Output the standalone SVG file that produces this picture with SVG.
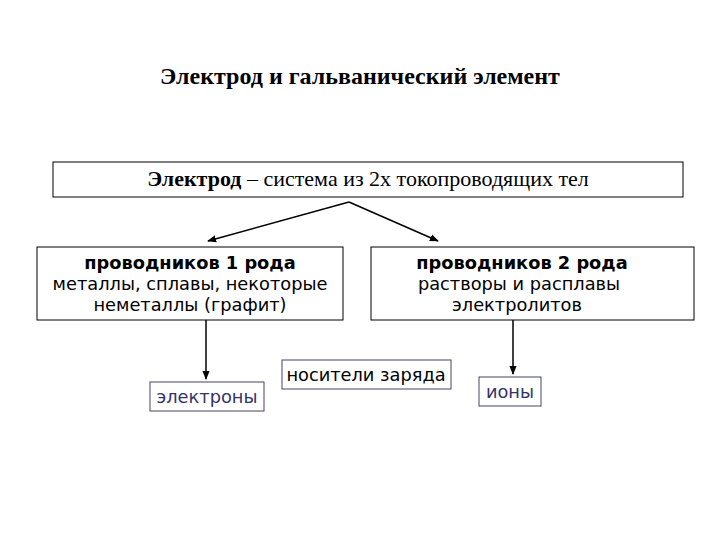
<svg xmlns="http://www.w3.org/2000/svg" width="720" height="540" viewBox="0 0 720 540">
<style>
.box{fill:#fff;stroke:#000;stroke-width:1}
.sbox{fill:#fff;stroke:#444466;stroke-width:1}
.ser{font-family:"Liberation Serif","Times New Roman",serif;fill:#000;text-anchor:middle}
.san{font-family:"DejaVu Sans",Verdana,sans-serif;font-size:17.8px;fill:#000;text-anchor:middle}
.blue{fill:#333366}
.con{stroke:#000;stroke-width:1.5;fill:none}
</style>
<defs>
<marker id="ah" viewBox="0 0 10 10" refX="9" refY="5" markerWidth="9" markerHeight="9" orient="auto" markerUnits="userSpaceOnUse">
<path d="M0,1 L10,5 L0,9 z" fill="#000"/>
</marker>
</defs>
<rect width="720" height="540" fill="#fff"/>
<text id="title" class="ser" x="360" y="84" font-size="24px" font-weight="bold">Электрод и гальванический элемент</text>
<g id="electrode">
<rect class="box" x="53" y="162" width="630" height="35"/>
<text class="ser" x="368" y="186" font-size="22px"><tspan font-weight="bold">Электрод</tspan> – система из 2х токопроводящих тел</text>
</g>
<g id="cond1">
<rect class="box" x="37" y="247" width="306" height="73"/>
<text class="san" x="190" y="269" font-weight="bold">проводников 1 рода</text>
<text class="san" x="190" y="290">металлы, сплавы, некоторые</text>
<text class="san" x="190" y="311">неметаллы (графит)</text>
</g>
<g id="cond2">
<rect class="box" x="371" y="247" width="323" height="73"/>
<text class="san" x="522" y="269" font-weight="bold">проводников 2 рода</text>
<text class="san" x="519" y="290">растворы и расплавы</text>
<text class="san" x="517" y="311">электролитов</text>
</g>
<g id="electrons">
<rect class="sbox" x="150" y="382" width="114" height="29"/>
<text class="san blue" x="207" y="403">электроны</text>
</g>
<g id="carriers">
<rect class="sbox" x="282" y="360" width="169" height="29"/>
<text class="san" x="366" y="381">носители заряда</text>
</g>
<g id="ions">
<rect class="sbox" x="479" y="377" width="62" height="29"/>
<text class="san blue" x="510" y="398">ионы</text>
</g>
<g id="connectors">
<path class="con" d="M349,202 L208,241" marker-end="url(#ah)"/>
<path class="con" d="M349,202 L438,241" marker-end="url(#ah)"/>
<path class="con" d="M206,320 L206,379" marker-end="url(#ah)"/>
<path class="con" d="M513,320 L513,374" marker-end="url(#ah)"/>
</g>
</svg>
